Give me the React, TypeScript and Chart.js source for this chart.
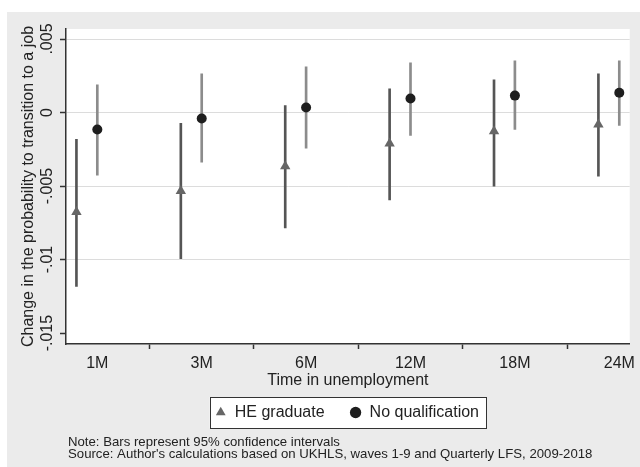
import React, { useEffect, useRef } from 'react';
import { Chart, registerables } from 'chart.js';

Chart.register(...registerables);

// ---- data ----
const categories = ['1M', '3M', '6M', '12M', '18M', '24M'];
const heEst = [-0.00676, -0.00534, -0.00365, -0.0021, -0.00128, -0.00081];
const heLow = [-0.01182, -0.00993, -0.00784, -0.00595, -0.005, -0.00432];
const heHigh = [-0.00182, -0.00074, 0.00047, 0.00162, 0.00223, 0.00264];
const nqEst = [-0.00115, -0.0004, 0.00034, 0.00095, 0.00115, 0.00135];
const nqLow = [-0.00426, -0.00338, -0.00243, -0.00155, -0.00115, -0.00088];
const nqHigh = [0.00189, 0.00264, 0.0031, 0.00338, 0.00351, 0.00351];
const yTickValues = [-0.015, -0.01, -0.005, 0, 0.005];
const yTickLabels = ['-.015', '-.01', '-.005', '0', '.005'];
const heShift = -0.2;
const noteLines = [
  'Note: Bars represent 95% confidence intervals',
  "Source: Author's calculations based on UKHLS, waves 1-9 and Quarterly LFS, 2009-2018",
];

const FONT = '"Liberation Sans", Arial, Helvetica, sans-serif';
const TEXT = '#222222';
const AXIS = '#333333';
const LEG_PAD = 25;

const decor = {
  id: 'decor',
  afterLayout(chart: any) {
    const lg = chart.legend;
    const a = chart.chartArea;
    if (!lg) return;
    const dx = (a.left + a.right) / 2 - (lg.left + lg.right) / 2 - 1;
    lg.left += dx;
    lg.right += dx;
    const dy = a.bottom + 68.5 - (lg.top + LEG_PAD + 8);
    lg.top += dy;
    lg.bottom += dy;
  },
  beforeDraw(chart: any) {
    const { ctx, chartArea: a } = chart;
    ctx.save();
    ctx.fillStyle = '#ffffff';
    ctx.fillRect(a.left, a.top, a.right - a.left, a.bottom - a.top);
    const lg = chart.legend;
    if (lg && lg.legendHitBoxes && lg.legendHitBoxes.length) {
      const hb = lg.legendHitBoxes;
      const last = hb[hb.length - 1];
      const x0 = hb[0].left - 5;
      const x1 = last.left + last.width + 7;
      const yc = hb[0].top + hb[0].height / 2;
      ctx.fillStyle = '#ffffff';
      ctx.fillRect(x0, yc - 15.5, x1 - x0, 31);
      ctx.strokeStyle = AXIS;
      ctx.lineWidth = 1;
      ctx.strokeRect(Math.round(x0) + 0.5, Math.round(yc - 15.5) + 0.5, Math.round(x1 - x0), 31);
    }
    ctx.restore();
  },
  afterDraw(chart: any) {
    const { ctx, chartArea: a } = chart;
    const ys = chart.scales.y;
    ctx.save();
    ctx.fillStyle = TEXT;
    ctx.font = `16px ${FONT}`;
    ctx.textAlign = 'center';
    ctx.textBaseline = 'middle';
    yTickValues.forEach((v, i) => {
      const py = ys.getPixelForValue(v);
      ctx.save();
      ctx.translate(a.left - 18, py);
      ctx.rotate(-Math.PI / 2);
      ctx.fillText(yTickLabels[i], 0, 0);
      ctx.restore();
    });
    ctx.font = `13.2px ${FONT}`;
    ctx.textAlign = 'left';
    noteLines.forEach((t, i) => {
      ctx.fillText(t, a.left + 2, a.bottom + 98.5 + i * 12);
    });
    ctx.restore();
  },
};

export default function App() {
  const ref = useRef<HTMLCanvasElement | null>(null);
  useEffect(() => {
    if (!ref.current) return;
    const heBars = categories.map((_, i) => ({ x: i + heShift, y: [heLow[i], heHigh[i]] }));
    const nqBars = categories.map((_, i) => ({ x: i, y: [nqLow[i], nqHigh[i]] }));
    const hePts = categories.map((_, i) => ({ x: i + heShift, y: heEst[i] }));
    const nqPts = categories.map((_, i) => ({ x: i, y: nqEst[i] }));

    const chart = new Chart(ref.current, {
      type: 'bar',
      data: {
        datasets: [
          {
            type: 'scatter',
            label: 'HE graduate',
            data: hePts,
            pointStyle: 'triangle',
            pointRadius: 6,
            pointBackgroundColor: '#666666',
            pointBorderColor: '#666666',
            backgroundColor: '#666666',
            borderColor: '#666666',
            pointBorderWidth: 0,
            borderWidth: 0,
            showLine: false,
          } as any,
          {
            type: 'scatter',
            label: 'No qualification',
            data: nqPts,
            pointStyle: 'circle',
            pointRadius: 5,
            pointBackgroundColor: '#1e1e1e',
            pointBorderColor: '#1e1e1e',
            backgroundColor: '#1e1e1e',
            borderColor: '#1e1e1e',
            pointBorderWidth: 0,
            borderWidth: 0,
            showLine: false,
          } as any,
          {
            type: 'bar',
            label: 'HE CI',
            data: heBars,
            backgroundColor: '#555555',
            barThickness: 2,
            grouped: false,
          } as any,
          {
            type: 'bar',
            label: 'NQ CI',
            data: nqBars,
            backgroundColor: '#8c8c8c',
            barThickness: 2,
            grouped: false,
          } as any,
        ],
      },
      options: {
        animation: false,
        responsive: false,
        maintainAspectRatio: false,
        layout: { padding: { top: 17, right: 8, left: 0, bottom: 26 } },
        plugins: {
          legend: {
            position: 'bottom',
            labels: {
              filter: (item: any) => item.datasetIndex < 2,
              usePointStyle: true,
              boxWidth: 12,
              boxHeight: 8,
              padding: LEG_PAD,
              color: TEXT,
              font: { family: FONT, size: 16 },
            },
          },
          tooltip: { enabled: false },
        },
        scales: {
          x: {
            type: 'linear',
            min: -0.3,
            max: 5.1,
            offset: false,
            afterBuildTicks: (s: any) => {
              s.ticks = categories.map((_, i) => ({ value: i }));
            },
            afterFit: (s: any) => {
              s.height = 46;
            },
            ticks: {
              autoSkip: false,
              maxRotation: 0,
              padding: 5,
              color: TEXT,
              font: { family: FONT, size: 16 },
              callback: (v: any) => categories[v as number] ?? '',
            },
            grid: {
              display: true,
              drawOnChartArea: false,
              drawTicks: true,
              tickLength: 5,
              tickColor: AXIS,
              tickWidth: 1.5,
            },
            border: { display: true, color: AXIS, width: 1.5 },
            title: {
              display: true,
              text: 'Time in unemployment',
              color: TEXT,
              font: { family: FONT, size: 16 },
              padding: { top: 0, bottom: 0 },
            },
          },
          y: {
            type: 'linear',
            min: -0.01574,
            max: 0.00568,
            afterBuildTicks: (s: any) => {
              s.ticks = yTickValues.map((v) => ({ value: v }));
            },
            afterFit: (s: any) => {
              s.width = 59;
            },
            ticks: { display: false },
            grid: {
              display: true,
              drawTicks: true,
              tickLength: 6,
              tickColor: AXIS,
              tickWidth: 1.5,
              lineWidth: 1,
              color: (c: any) => (c.tick && c.tick.value === -0.015 ? 'rgba(0,0,0,0)' : '#dcdcdc'),
            },
            border: { display: true, color: AXIS, width: 1.5 },
            title: {
              display: true,
              text: 'Change in the probability to transition to a job',
              color: TEXT,
              font: { family: FONT, size: 16 },
              padding: { top: 12, bottom: 0 },
            },
          },
        },
      },
      plugins: [decor],
    } as any);
    return () => chart.destroy();
  }, []);

  return (
    <div
      style={{
        position: 'absolute',
        left: 7,
        top: 12,
        width: 633,
        height: 455,
        background: '#ebebeb',
      }}
    >
      <canvas ref={ref} width={633} height={455} style={{ display: 'block', width: 633, height: 455 }} />
    </div>
  );
}
